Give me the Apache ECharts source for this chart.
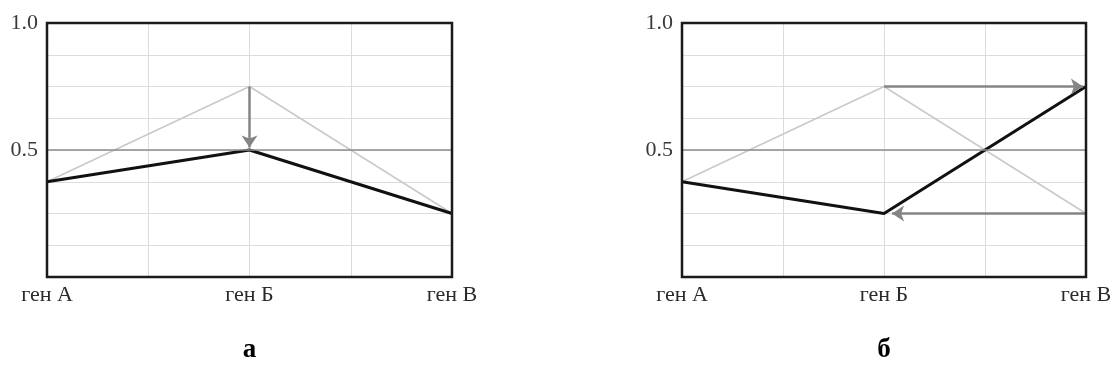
<!DOCTYPE html>
<html>
<head>
<meta charset="utf-8">
<script src="https://cdn.jsdelivr.net/npm/echarts@6/dist/echarts.min.js"></script>
<style>
html,body{margin:0;padding:0;background:#fff;}
#chart{width:1115px;height:380px;}
</style>
</head>
<body>
<div id="chart"></div>
<script>
// ---- data ----
const categories = ['ген А', 'ген Б', 'ген В'];
const yTickLabels = {0.5: '0.5', 1: '1.0'};
const panelLabels = ['а', 'б'];
// panel а
const beforeA = [0.375, 0.75, 0.25];
const afterA  = [0.375, 0.5, 0.25];
const arrowsA = [[[1, 0.75], [1, 0.51]]];
// panel б
const beforeB = [0.375, 0.75, 0.25];
const afterB  = [0.375, 0.25, 0.75];
const arrowsB = [[[1, 0.75], [1.985, 0.75]], [[2, 0.25], [1.04, 0.25]]];
const midLine = 0.5;

const FONT = '"Liberation Serif", "DejaVu Serif", serif';
const toXY = arr => arr.map((v, i) => [i, v]);

function xAxis(gi, name) {
  return {
    type: 'value', gridIndex: gi, min: 0, max: categories.length - 1, interval: 0.5,
    axisLine: {show: false}, axisTick: {show: false},
    splitLine: {show: true, lineStyle: {color: '#dcdcdc', width: 1}},
    axisLabel: {
      margin: 7, color: '#2a2a2a', fontFamily: FONT, fontSize: 22,
      formatter: v => Number.isInteger(v) ? categories[v] : '',
      showMinLabel: true, showMaxLabel: true, hideOverlap: false
    },
    name: name, nameLocation: 'middle', nameGap: 60,
    nameTextStyle: {fontFamily: FONT, fontSize: 27, fontWeight: 'bold', color: '#000'}
  };
}
function yAxis(gi) {
  return {
    type: 'value', gridIndex: gi, min: 0, max: 1, interval: 0.125,
    axisLine: {show: false}, axisTick: {show: false},
    splitLine: {show: true, lineStyle: {color: '#dcdcdc', width: 1}},
    axisLabel: {
      margin: 9, color: '#3a3a3a', fontFamily: FONT, fontSize: 22,
      formatter: v => yTickLabels[v] || ''
    }
  };
}
function panelSeries(gi, before, after, arrows) {
  return [
    {
      type: 'line', xAxisIndex: gi, yAxisIndex: gi, data: toXY(before),
      symbol: 'none', lineStyle: {color: '#c9c9c9', width: 1.5}, z: 2, silent: true,
      markLine: {
        silent: true, symbol: 'none', label: {show: false},
        lineStyle: {color: '#8c8c8c', width: 1.5, type: 'solid'},
        data: [{yAxis: midLine}]
      }
    },
    {
      type: 'line', xAxisIndex: gi, yAxisIndex: gi, data: toXY(after),
      symbol: 'none', lineStyle: {color: '#111', width: 3}, z: 4, silent: true
    },
    {
      type: 'lines', coordinateSystem: 'cartesian2d', xAxisIndex: gi, yAxisIndex: gi,
      symbol: ['none', 'arrow'], symbolSize: [9, 12], z: 5, silent: true,
      lineStyle: {color: '#858585', width: 2.5, opacity: 1, curveness: 0},
      data: arrows.map(c => ({coords: c}))
    }
  ];
}

const chart = echarts.init(document.getElementById('chart'), null, {renderer: 'canvas'});
chart.setOption({
  backgroundColor: '#fff',
  animation: false,
  grid: [
    {left: 47, top: 23, width: 405, height: 254, show: true, z: 10, outerBoundsMode: 'none', containLabel: false,
     backgroundColor: 'transparent', borderColor: '#1a1a1a', borderWidth: 2.5},
    {left: 682, top: 23, width: 404, height: 254, show: true, z: 10, outerBoundsMode: 'none', containLabel: false,
     backgroundColor: 'transparent', borderColor: '#1a1a1a', borderWidth: 2.5}
  ],
  xAxis: [xAxis(0, panelLabels[0]), xAxis(1, panelLabels[1])],
  yAxis: [yAxis(0), yAxis(1)],
  series: [
    ...panelSeries(0, beforeA, afterA, arrowsA),
    ...panelSeries(1, beforeB, afterB, arrowsB)
  ]
});
</script>
</body>
</html>
